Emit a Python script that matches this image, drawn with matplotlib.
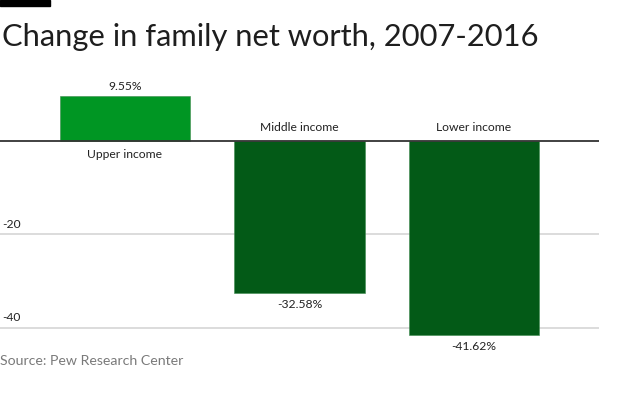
import matplotlib.pyplot as plt
from matplotlib.patches import Rectangle

groups = ["Upper income", "Middle income", "Lower income"]
change = [9.55, -32.58, -41.62]
value_labels = ["9.55%", "-32.58%", "-41.62%"]
yticks = [-20, -40]

plt.rcParams['font.family'] = ['Lato', 'DejaVu Sans']

fig = plt.figure(figsize=(6.2, 3.96), dpi=100)
ax = fig.add_axes([0, 0.1374, 599 / 620, 0.636])

colors = ['#009623' if v > 0 else '#035a17' for v in change]
x = range(len(groups))
ax.bar(x, change, width=0.745, color=colors, edgecolor='#3f8a4f', linewidth=0.4, zorder=2)
ax.set_xlim(-0.716, 2.716)
ax.set_ylim(-43, 11)

# grid + zero line
for t in yticks:
    ax.axhline(t, color='#dcdcdc', linewidth=1.4, zorder=1)
    ax.text(0.004, t + 1.0, str(t), transform=ax.get_yaxis_transform(),
            ha='left', va='bottom', fontsize=8.7, color='#222222')
ax.axhline(0, color='#333333', linewidth=1.3, zorder=3)

for i, (g, v, lab) in enumerate(zip(groups, change, value_labels)):
    if v > 0:
        ax.text(i, v + 1.0, lab, ha='center', va='bottom', fontsize=8.7, color='#222222')
        ax.text(i, -1.7, g, ha='center', va='top', fontsize=8.7, color='#222222')
    else:
        ax.text(i, v - 1.2, lab, ha='center', va='top', fontsize=8.7, color='#222222')
        ax.text(i, 1.7, g, ha='center', va='bottom', fontsize=8.7, color='#222222')

ax.axis('off')

fig.patches.append(Rectangle((0, 1 - 6 / 396), 50 / 620, 6 / 396, transform=fig.transFigure,
                             color='black'))
fig.text(2 / 620, 1 - 46 / 396, "Change in family net worth, 2007-2016", fontsize=22.2,
         fontweight='normal', color='#1e1e1e', ha='left', va='baseline')
fig.text(0, 1 - 361 / 396, "Source: Pew Research Center", fontsize=10.2, color='#7a7a7a',
         ha='left', va='center')

fig.savefig("out.png", dpi=100)
